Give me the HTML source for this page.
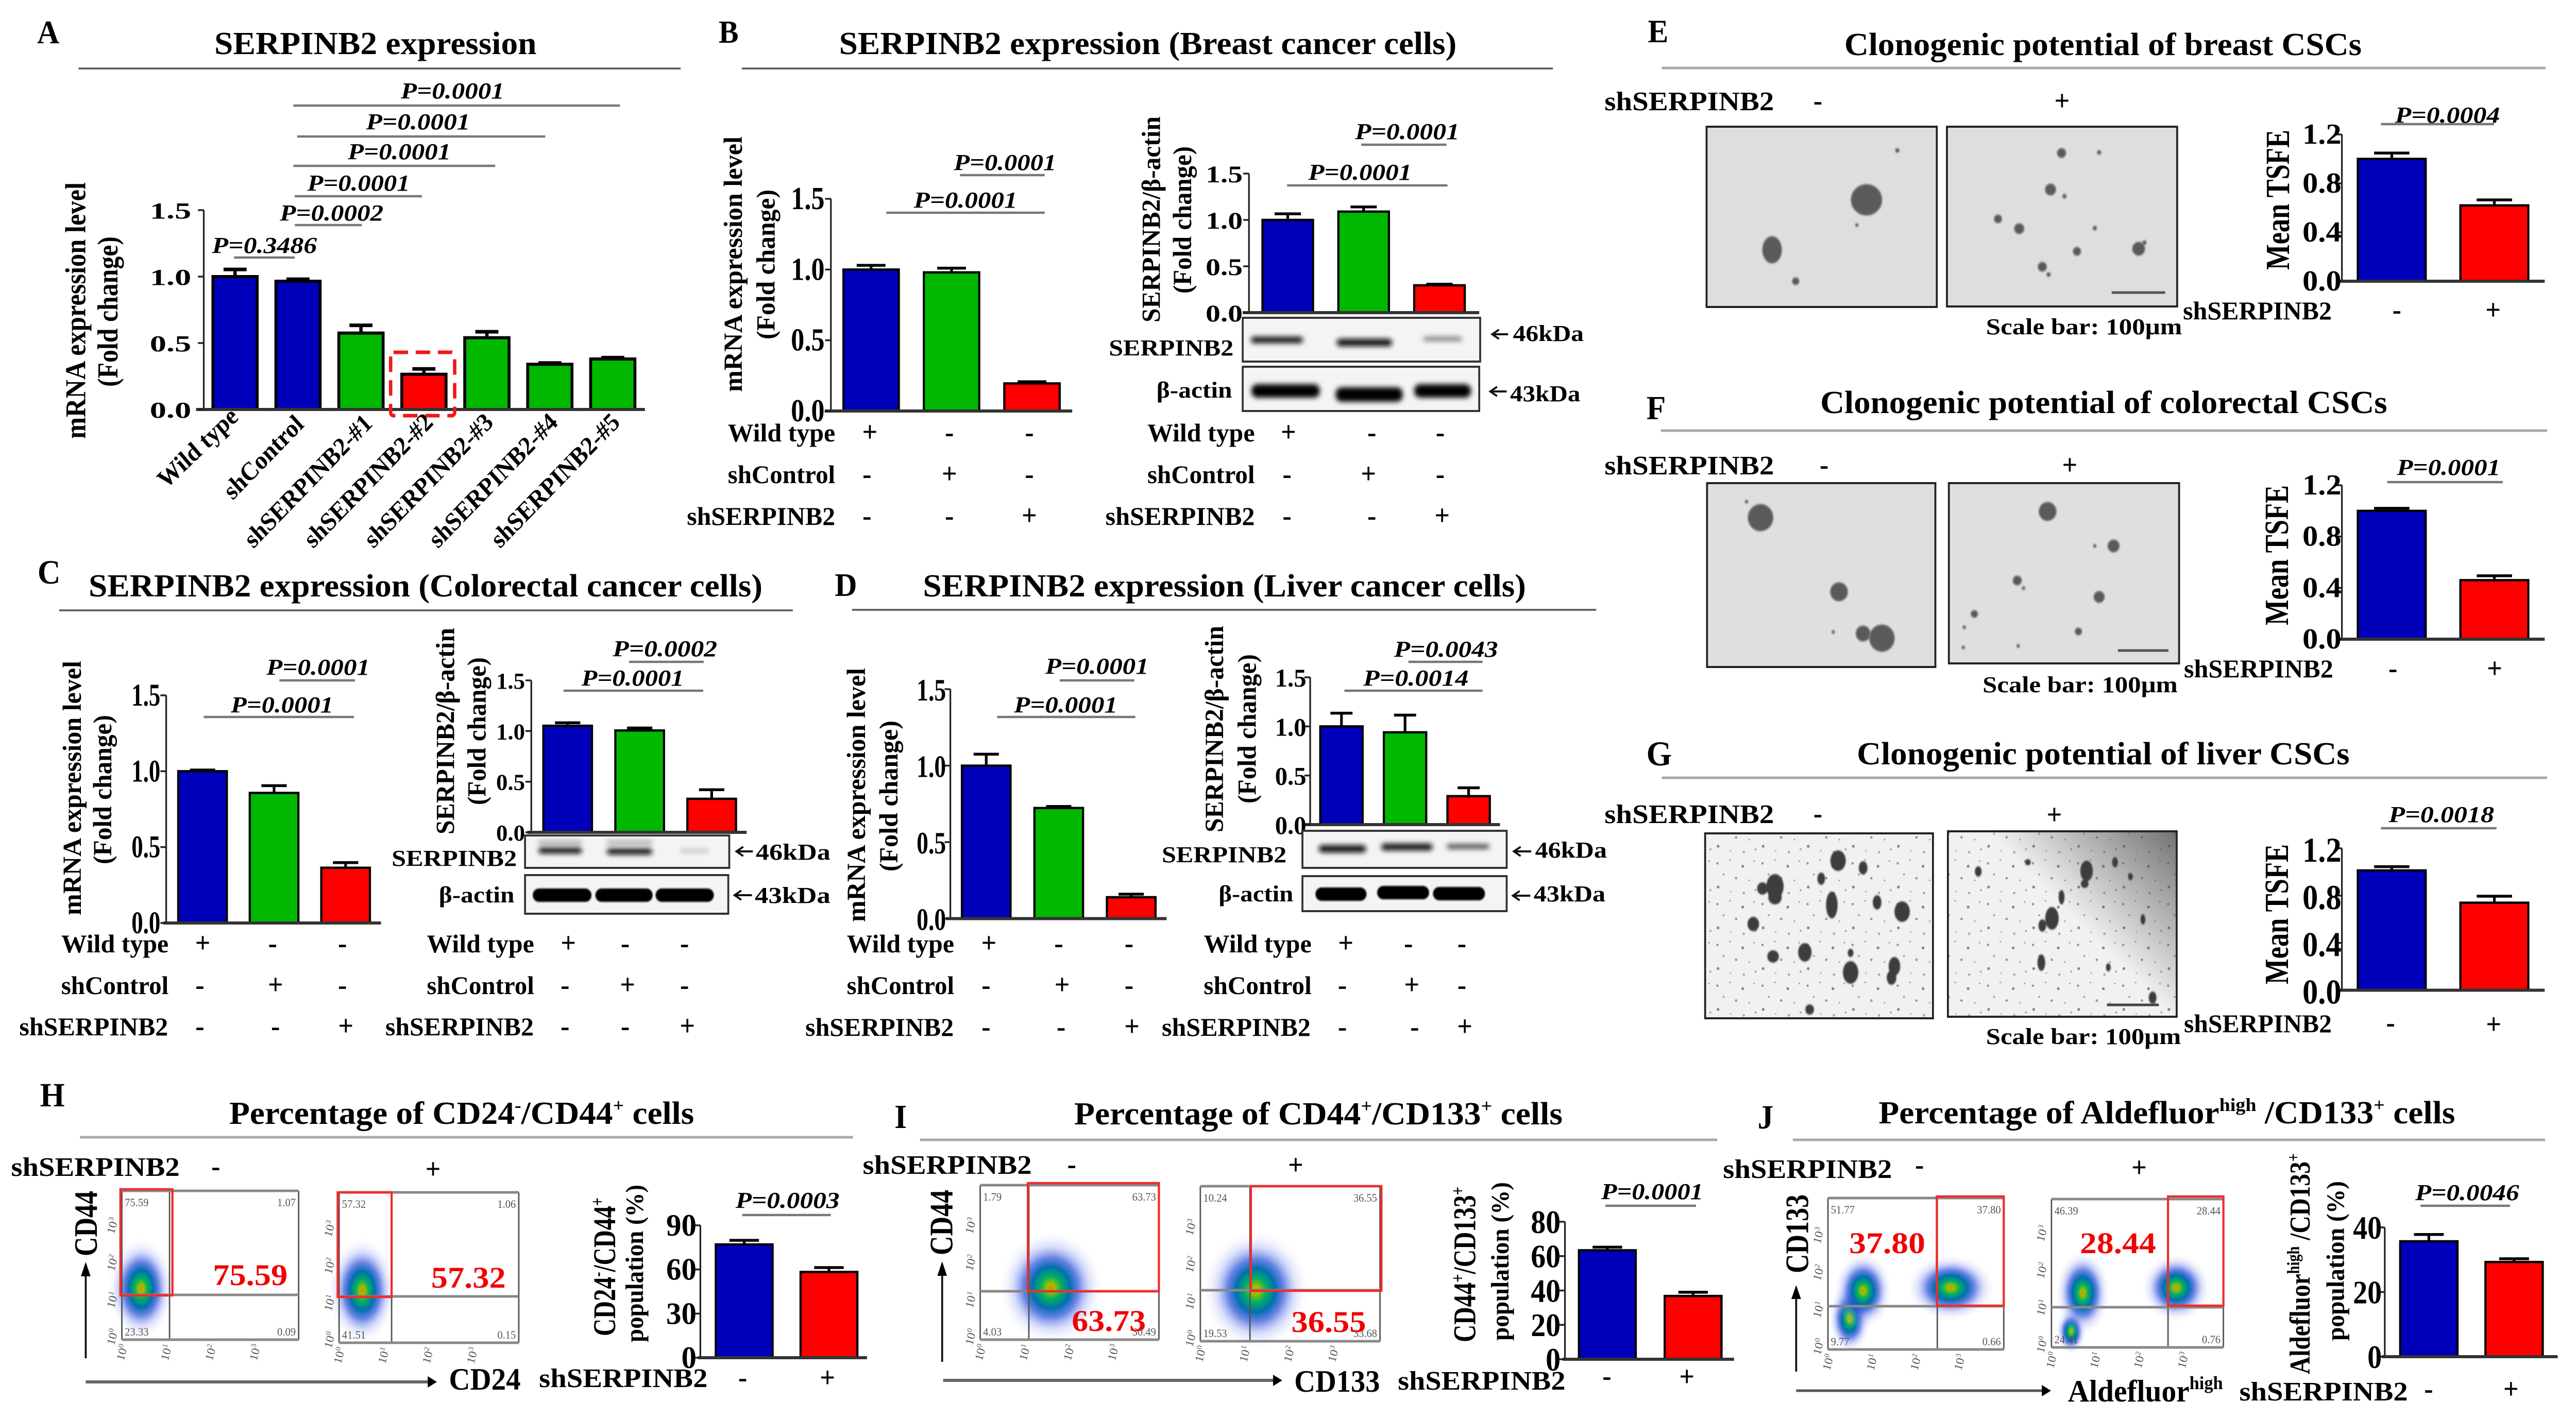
<!DOCTYPE html>
<html lang="en">
<head>
<meta charset="utf-8">
<title>SERPINB2 expression figure</title>
<style>
html,body{margin:0;padding:0;background:#fff;width:100%;height:100%;overflow:hidden}
svg{display:block;width:100vw;height:100vh;overflow:hidden}
text{font-family:"Liberation Serif","DejaVu Serif",serif;fill:#000}
.b{font-weight:bold}
.i{font-weight:bold;font-style:italic;font-size:44px}
.s{font-weight:bold;font-size:56px;text-anchor:middle}
.r{font-weight:bold;font-size:50px}
.k{font-weight:bold;font-size:44px}
.t{font-weight:bold;font-size:62px}
.y{font-weight:bold;font-size:54px}
.f{font-weight:bold;fill:#f00000;font-size:58px}
.rule{stroke:#555;stroke-width:3.5}
.rule2{stroke:#a8a8a8;stroke-width:5}
.pl{stroke:#777;stroke-width:4.5}
.box{fill:#f4f4f4;stroke:#333;stroke-width:4}
.img{stroke:#222;stroke-width:4}
.c{fill:#5a5a5a;stroke:#888;stroke-width:2}
.a{stroke:#111;stroke-width:4;fill:none}
</style>
</head>
<body>
<svg xmlns="http://www.w3.org/2000/svg" viewBox="0 0 5348 2755" preserveAspectRatio="none">
<defs>
<filter id="bl" x="-20%" y="-150%" width="140%" height="400%"><feGaussianBlur stdDeviation="5"/></filter>
<filter id="sf" x="-50%" y="-50%" width="200%" height="200%"><feGaussianBlur stdDeviation="1.5"/></filter>
<radialGradient id="cloud">
<stop offset="0" stop-color="#e88000"/><stop offset=".07" stop-color="#a0c000"/><stop offset=".2" stop-color="#00b060"/><stop offset=".36" stop-color="#0070b0"/><stop offset=".52" stop-color="#2850d8" stop-opacity=".7"/><stop offset=".72" stop-color="#8090f0" stop-opacity=".3"/><stop offset="1" stop-color="#fff" stop-opacity="0"/>
</radialGradient>
<linearGradient id="corner" x1="1" y1="0" x2=".5" y2=".4"><stop offset="0" stop-color="#555" stop-opacity=".8"/><stop offset="1" stop-color="#555" stop-opacity="0"/></linearGradient>
<pattern id="speck" width="130" height="110" patternUnits="userSpaceOnUse" patternTransform="scale(.72)">
<rect width="130" height="110" fill="#f1f1f0"/>
<circle cx="12" cy="18" r="3.5" fill="#999"/><circle cx="48" cy="9" r="2.5" fill="#aaa"/><circle cx="85" cy="26" r="4" fill="#888"/><circle cx="118" cy="12" r="2.5" fill="#aaa"/><circle cx="30" cy="48" r="3" fill="#aaa"/><circle cx="66" cy="58" r="3.5" fill="#999"/><circle cx="104" cy="64" r="2.5" fill="#aaa"/><circle cx="14" cy="82" r="4" fill="#888"/><circle cx="50" cy="94" r="2.5" fill="#bbb"/><circle cx="88" cy="98" r="3.5" fill="#aaa"/><circle cx="122" cy="90" r="3" fill="#aaa"/>
</pattern>
</defs>

<g id="marks"></g>

<!-- PANEL A -->
<g>
<text class="b" font-size="64" x="77" y="84">A</text>
<text class="t" x="445" y="105" textLength="669" lengthAdjust="spacingAndGlyphs">SERPINB2 expression</text>
<line class="rule" x1="163" y1="133" x2="1413" y2="133"/>
<text class="i" x="832" y="191" textLength="215" lengthAdjust="spacingAndGlyphs">P=0.0001</text><line class="pl" x1="609" y1="205" x2="1287" y2="205"/>
<text class="i" x="760" y="251" textLength="216" lengthAdjust="spacingAndGlyphs">P=0.0001</text><line class="pl" x1="617" y1="265" x2="1132" y2="265"/>
<text class="i" x="722" y="309" textLength="214" lengthAdjust="spacingAndGlyphs">P=0.0001</text><line class="pl" x1="609" y1="322" x2="1028" y2="322"/>
<text class="i" x="638" y="370" textLength="213" lengthAdjust="spacingAndGlyphs">P=0.0001</text><line class="pl" x1="612" y1="381" x2="876" y2="381"/>
<text class="i" x="581" y="428" textLength="215" lengthAdjust="spacingAndGlyphs">P=0.0002</text><line class="pl" x1="612" y1="437" x2="751" y2="437"/>
<text class="i" x="440" y="491" textLength="218" lengthAdjust="spacingAndGlyphs">P=0.3486</text><line class="pl" x1="486" y1="500" x2="612" y2="500"/>
<text class="b" font-size="60" transform="translate(177,852) rotate(-90)" textLength="498" lengthAdjust="spacingAndGlyphs">mRNA expression level</text>
<text class="b" font-size="60" transform="translate(244,751) rotate(-90)" textLength="292" lengthAdjust="spacingAndGlyphs">(Fold change)</text>
<rect x="811" y="684" width="133" height="123" rx="6" fill="none" stroke="#f01818" stroke-width="7" stroke-dasharray="30 16"/>
<text class="b" font-size="50" transform="translate(345,950) rotate(-42)" textLength="205" lengthAdjust="spacingAndGlyphs">Wild type</text>
<text class="b" font-size="50" transform="translate(483,972) rotate(-44)" textLength="209" lengthAdjust="spacingAndGlyphs">shControl</text>
<text class="b" font-size="50" transform="translate(526,1066) rotate(-44)" textLength="347" lengthAdjust="spacingAndGlyphs">shSERPINB2-#1</text>
<text class="b" font-size="50" transform="translate(650,1066) rotate(-44)" textLength="350" lengthAdjust="spacingAndGlyphs">shSERPINB2-#2</text>
<text class="b" font-size="50" transform="translate(775,1066) rotate(-44)" textLength="350" lengthAdjust="spacingAndGlyphs">shSERPINB2-#3</text>
<text class="b" font-size="50" transform="translate(909,1066) rotate(-44)" textLength="350" lengthAdjust="spacingAndGlyphs">shSERPINB2-#4</text>
<text class="b" font-size="50" transform="translate(1038,1066) rotate(-44)" textLength="350" lengthAdjust="spacingAndGlyphs">shSERPINB2-#5</text>
</g>

<!-- PANEL B -->
<g>
<text class="b" font-size="62" x="1492" y="83">B</text>
<text class="t" x="1742" y="105" textLength="1282" lengthAdjust="spacingAndGlyphs">SERPINB2 expression (Breast cancer cells)</text>
<line class="rule" x1="1540" y1="133" x2="3224" y2="133"/>
<text class="y" transform="translate(1540,761) rotate(-90)" textLength="496" lengthAdjust="spacingAndGlyphs">mRNA expression level</text>
<text class="y" transform="translate(1608,659) rotate(-90)" textLength="291" lengthAdjust="spacingAndGlyphs">(Fold change)</text>
<text class="i" x="1980" y="330" textLength="213" lengthAdjust="spacingAndGlyphs">P=0.0001</text><line class="pl" x1="1993" y1="340" x2="2169" y2="340"/>
<text class="i" x="1897" y="403" textLength="215" lengthAdjust="spacingAndGlyphs">P=0.0001</text><line class="pl" x1="1840" y1="413" x2="2169" y2="413"/>
<text class="r" x="1511" y="857" textLength="223" lengthAdjust="spacingAndGlyphs">Wild type</text><text class="s" x="1806" y="857">+</text><text class="s" x="1971" y="858">-</text><text class="s" x="2137" y="858">-</text>
<text class="r" x="1511" y="938" textLength="223" lengthAdjust="spacingAndGlyphs">shControl</text><text class="s" x="1800" y="939">-</text><text class="s" x="1971" y="938">+</text><text class="s" x="2137" y="939">-</text>
<text class="r" x="1426" y="1019" textLength="308" lengthAdjust="spacingAndGlyphs">shSERPINB2</text><text class="s" x="1800" y="1020">-</text><text class="s" x="1971" y="1020">-</text><text class="s" x="2137" y="1019">+</text>
<text class="y" transform="translate(2408,626) rotate(-90)" textLength="400" lengthAdjust="spacingAndGlyphs">SERPINB2/β-actin</text>
<text class="y" transform="translate(2473,570) rotate(-90)" textLength="286" lengthAdjust="spacingAndGlyphs">(Fold change)</text>
<text class="i" x="2813" y="270" textLength="217" lengthAdjust="spacingAndGlyphs">P=0.0001</text><line class="pl" x1="2826" y1="281" x2="3003" y2="281"/>
<text class="i" x="2716" y="349" textLength="215" lengthAdjust="spacingAndGlyphs">P=0.0001</text><line class="pl" x1="2672" y1="360" x2="3005" y2="360"/>
<rect class="box" x="2580" y="617" width="493" height="85"/>
<g filter="url(#bl)"><rect x="2597" y="654" width="108" height="12" rx="6" fill="#111"/><rect x="2775" y="658" width="115" height="14" rx="7" fill="#111"/><rect x="2955" y="654" width="80" height="8" rx="4" fill="#777"/></g>
<text class="k" x="2302" y="690" textLength="259" lengthAdjust="spacingAndGlyphs">SERPINB2</text>
<path class="a" d="M3131 649H3100M3112 640L3098 649L3112 658"/><text class="k" x="3141" y="662" textLength="147" lengthAdjust="spacingAndGlyphs">46kDa</text>
<rect class="box" x="2580" y="712" width="491" height="86" fill="#eee"/>
<g filter="url(#bl)"><rect x="2598" y="746" width="142" height="26" rx="12" fill="#000"/><rect x="2773" y="752" width="139" height="28" rx="12" fill="#000"/><rect x="2936" y="746" width="118" height="26" rx="12" fill="#000"/></g>
<text class="k" x="2401" y="772" textLength="157" lengthAdjust="spacingAndGlyphs">β-actin</text>
<path class="a" d="M3128 760H3096M3108 751L3094 760L3108 769"/><text class="k" x="3135" y="779" textLength="146" lengthAdjust="spacingAndGlyphs">43kDa</text>
<text class="r" x="2382" y="857" textLength="223" lengthAdjust="spacingAndGlyphs">Wild type</text><text class="s" x="2675" y="857">+</text><text class="s" x="2848" y="858">-</text><text class="s" x="2990" y="858">-</text>
<text class="r" x="2382" y="938" textLength="223" lengthAdjust="spacingAndGlyphs">shControl</text><text class="s" x="2672" y="939">-</text><text class="s" x="2841" y="938">+</text><text class="s" x="2990" y="939">-</text>
<text class="r" x="2295" y="1019" textLength="310" lengthAdjust="spacingAndGlyphs">shSERPINB2</text><text class="s" x="2672" y="1020">-</text><text class="s" x="2848" y="1020">-</text><text class="s" x="2994" y="1019">+</text>
</g>

<!-- PANEL C -->
<g>
<text class="b" font-size="66" x="78" y="1133">C</text>
<text class="t" x="184" y="1158" textLength="1399" lengthAdjust="spacingAndGlyphs">SERPINB2 expression (Colorectal cancer cells)</text>
<line class="rule" x1="123" y1="1185" x2="1646" y2="1185"/>
<text class="y" transform="translate(168,1777) rotate(-90)" textLength="494" lengthAdjust="spacingAndGlyphs">mRNA expression level</text>
<text class="y" transform="translate(231,1678) rotate(-90)" textLength="290" lengthAdjust="spacingAndGlyphs">(Fold change)</text>
<text class="i" x="553" y="1310" textLength="215" lengthAdjust="spacingAndGlyphs">P=0.0001</text><line class="pl" x1="580" y1="1321" x2="737" y2="1321"/>
<text class="i" x="479" y="1383" textLength="213" lengthAdjust="spacingAndGlyphs">P=0.0001</text><line class="pl" x1="423" y1="1392" x2="735" y2="1392"/>
<text class="r" x="127" y="1849" textLength="223" lengthAdjust="spacingAndGlyphs">Wild type</text><text class="s" x="421" y="1849">+</text><text class="s" x="566" y="1850">-</text><text class="s" x="711" y="1850">-</text>
<text class="r" x="127" y="1930" textLength="223" lengthAdjust="spacingAndGlyphs">shControl</text><text class="s" x="415" y="1931">-</text><text class="s" x="572" y="1930">+</text><text class="s" x="711" y="1931">-</text>
<text class="r" x="40" y="2010" textLength="309" lengthAdjust="spacingAndGlyphs">shSERPINB2</text><text class="s" x="415" y="2011">-</text><text class="s" x="572" y="2011">-</text><text class="s" x="718" y="2010">+</text>
<text class="y" transform="translate(943,1620) rotate(-90)" textLength="401" lengthAdjust="spacingAndGlyphs">SERPINB2/β-actin</text>
<text class="y" transform="translate(1008,1563) rotate(-90)" textLength="287" lengthAdjust="spacingAndGlyphs">(Fold change)</text>
<text class="i" x="1272" y="1274" textLength="217" lengthAdjust="spacingAndGlyphs">P=0.0002</text><line class="pl" x1="1306" y1="1285" x2="1461" y2="1285"/>
<text class="i" x="1207" y="1331" textLength="213" lengthAdjust="spacingAndGlyphs">P=0.0001</text><line class="pl" x1="1170" y1="1341" x2="1460" y2="1341"/>
<rect class="box" x="1090" y="1622" width="424" height="63"/>
<g filter="url(#bl)"><rect x="1118" y="1632" width="90" height="8" fill="#aaa"/><rect x="1260" y="1632" width="94" height="8" fill="#aaa"/><rect x="1118" y="1645" width="90" height="12" rx="6" fill="#111"/><rect x="1260" y="1647" width="94" height="12" rx="6" fill="#111"/><rect x="1412" y="1649" width="60" height="6" fill="#bbb"/></g>
<text class="k" x="813" y="1681" textLength="260" lengthAdjust="spacingAndGlyphs">SERPINB2</text>
<path class="a" d="M1563 1653H1531M1543 1644L1529 1653L1543 1662"/><text class="k" x="1569" y="1669" textLength="155" lengthAdjust="spacingAndGlyphs">46kDa</text>
<rect class="box" x="1090" y="1699" width="422" height="75"/>
<g filter="url(#sf)"><rect x="1106" y="1725" width="122" height="26" rx="13" fill="#000"/><rect x="1236" y="1725" width="119" height="26" rx="13" fill="#000"/><rect x="1361" y="1725" width="121" height="26" rx="13" fill="#000"/></g>
<text class="k" x="911" y="1752" textLength="157" lengthAdjust="spacingAndGlyphs">β-actin</text>
<path class="a" d="M1561 1738H1527M1539 1729L1525 1738L1539 1747"/><text class="k" x="1567" y="1753" textLength="157" lengthAdjust="spacingAndGlyphs">43kDa</text>
<text class="r" x="886" y="1849" textLength="223" lengthAdjust="spacingAndGlyphs">Wild type</text><text class="s" x="1180" y="1849">+</text><text class="s" x="1298" y="1850">-</text><text class="s" x="1421" y="1850">-</text>
<text class="r" x="886" y="1930" textLength="223" lengthAdjust="spacingAndGlyphs">shControl</text><text class="s" x="1173" y="1931">-</text><text class="s" x="1303" y="1930">+</text><text class="s" x="1421" y="1931">-</text>
<text class="r" x="800" y="2010" textLength="308" lengthAdjust="spacingAndGlyphs">shSERPINB2</text><text class="s" x="1173" y="2011">-</text><text class="s" x="1298" y="2011">-</text><text class="s" x="1427" y="2010">+</text>
</g>

<!-- PANEL D -->
<g>
<text class="b" font-size="64" x="1733" y="1157">D</text>
<text class="t" x="1916" y="1158" textLength="1252" lengthAdjust="spacingAndGlyphs">SERPINB2 expression (Liver cancer cells)</text>
<line class="rule" x1="1769" y1="1184" x2="3314" y2="1184"/>
<text class="y" transform="translate(1796,1790) rotate(-90)" textLength="493" lengthAdjust="spacingAndGlyphs">mRNA expression level</text>
<text class="y" transform="translate(1863,1692) rotate(-90)" textLength="293" lengthAdjust="spacingAndGlyphs">(Fold change)</text>
<text class="i" x="2170" y="1308" textLength="215" lengthAdjust="spacingAndGlyphs">P=0.0001</text><line class="pl" x1="2200" y1="1321" x2="2355" y2="1321"/>
<text class="i" x="2105" y="1383" textLength="215" lengthAdjust="spacingAndGlyphs">P=0.0001</text><line class="pl" x1="2070" y1="1392" x2="2357" y2="1392"/>
<text class="r" x="1758" y="1849" textLength="223" lengthAdjust="spacingAndGlyphs">Wild type</text><text class="s" x="2053" y="1849">+</text><text class="s" x="2198" y="1850">-</text><text class="s" x="2344" y="1850">-</text>
<text class="r" x="1758" y="1930" textLength="223" lengthAdjust="spacingAndGlyphs">shControl</text><text class="s" x="2047" y="1931">-</text><text class="s" x="2205" y="1930">+</text><text class="s" x="2344" y="1931">-</text>
<text class="r" x="1672" y="2011" textLength="308" lengthAdjust="spacingAndGlyphs">shSERPINB2</text><text class="s" x="2047" y="2012">-</text><text class="s" x="2203" y="2012">-</text><text class="s" x="2350" y="2011">+</text>
<text class="y" transform="translate(2539,1616) rotate(-90)" textLength="401" lengthAdjust="spacingAndGlyphs">SERPINB2/β-actin</text>
<text class="y" transform="translate(2607,1560) rotate(-90)" textLength="290" lengthAdjust="spacingAndGlyphs">(Fold change)</text>
<text class="i" x="2894" y="1275" textLength="216" lengthAdjust="spacingAndGlyphs">P=0.0043</text><line class="pl" x1="2924" y1="1285" x2="3078" y2="1285"/>
<text class="i" x="2830" y="1331" textLength="219" lengthAdjust="spacingAndGlyphs">P=0.0014</text><line class="pl" x1="2791" y1="1341" x2="3078" y2="1341"/>
<rect class="box" x="2704" y="1613" width="424" height="72"/>
<g filter="url(#bl)"><rect x="2738" y="1641" width="98" height="14" rx="7" fill="#111"/><rect x="2868" y="1638" width="106" height="13" rx="6" fill="#111"/><rect x="3004" y="1639" width="88" height="9" rx="4" fill="#444"/></g>
<text class="k" x="2412" y="1674" textLength="259" lengthAdjust="spacingAndGlyphs">SERPINB2</text>
<path class="a" d="M3179 1653H3145M3157 1644L3143 1653L3157 1662"/><text class="k" x="3187" y="1665" textLength="149" lengthAdjust="spacingAndGlyphs">46kDa</text>
<rect class="box" x="2704" y="1701" width="424" height="68"/>
<g filter="url(#sf)"><rect x="2731" y="1723" width="106" height="26" rx="13" fill="#000"/><rect x="2859" y="1720" width="108" height="26" rx="13" fill="#000"/><rect x="2975" y="1722" width="108" height="26" rx="13" fill="#000"/></g>
<text class="k" x="2530" y="1750" textLength="155" lengthAdjust="spacingAndGlyphs">β-actin</text>
<path class="a" d="M3177 1739H3143M3155 1730L3141 1739L3155 1748"/><text class="k" x="3184" y="1750" textLength="149" lengthAdjust="spacingAndGlyphs">43kDa</text>
<text class="r" x="2499" y="1849" textLength="224" lengthAdjust="spacingAndGlyphs">Wild type</text><text class="s" x="2794" y="1849">+</text><text class="s" x="2924" y="1850">-</text><text class="s" x="3035" y="1850">-</text>
<text class="r" x="2499" y="1930" textLength="224" lengthAdjust="spacingAndGlyphs">shControl</text><text class="s" x="2787" y="1931">-</text><text class="s" x="2931" y="1930">+</text><text class="s" x="3035" y="1931">-</text>
<text class="r" x="2412" y="2011" textLength="309" lengthAdjust="spacingAndGlyphs">shSERPINB2</text><text class="s" x="2787" y="2012">-</text><text class="s" x="2937" y="2012">-</text><text class="s" x="3041" y="2011">+</text>
</g>

<!-- PANEL E -->
<g>
<text class="b" font-size="64" x="3421" y="82">E</text>
<text class="t" x="3829" y="107" textLength="1074" lengthAdjust="spacingAndGlyphs">Clonogenic potential of breast CSCs</text>
<line class="rule2" x1="3450" y1="132" x2="5285" y2="132"/>
<text class="b" font-size="52" x="3331" y="214" textLength="352" lengthAdjust="spacingAndGlyphs">shSERPINB2</text><text class="s" x="3774" y="214">-</text><text class="s" x="4281" y="214">+</text>
<rect class="img" x="3543" y="246" width="478" height="350" fill="#dededc"/>
<g filter="url(#sf)"><ellipse class="c" cx="3875" cy="388" rx="32" ry="30" fill="#444"/><ellipse class="c" cx="3679" cy="485" rx="20" ry="26"/><circle class="c" cx="3728" cy="546" r="7"/><circle class="c" cx="3939" cy="292" r="4"/><circle class="c" cx="3855" cy="437" r="3"/></g>
<rect class="img" x="4042" y="246" width="478" height="349" fill="#dededc"/>
<g filter="url(#sf)"><circle class="c" cx="4280" cy="297" r="9"/><circle class="c" cx="4358" cy="296" r="4"/><circle class="c" cx="4257" cy="368" r="11"/><circle class="c" cx="4286" cy="381" r="4"/><circle class="c" cx="4148" cy="425" r="8"/><circle class="c" cx="4192" cy="444" r="10"/><circle class="c" cx="4349" cy="443" r="4"/><circle class="c" cx="4312" cy="488" r="8"/><circle class="c" cx="4440" cy="483" r="13"/><circle class="c" cx="4240" cy="518" r="9"/><circle class="c" cx="4253" cy="533" r="4"/><circle class="c" cx="4452" cy="471" r="4"/></g>
<line x1="4384" y1="568" x2="4495" y2="568" stroke="#555" stroke-width="5"/>
<text class="k" x="4123" y="649" textLength="407" lengthAdjust="spacingAndGlyphs">Scale bar: 100μm</text>
<text class="b" font-size="70" transform="translate(4752,524) rotate(-90)" textLength="272" lengthAdjust="spacingAndGlyphs">Mean TSFE</text>
<text class="i" x="4972" y="238" textLength="218" lengthAdjust="spacingAndGlyphs">P=0.0004</text><line class="pl" x1="4943" y1="241" x2="5178" y2="241"/>
<text class="r" x="4532" y="620" textLength="309" lengthAdjust="spacingAndGlyphs">shSERPINB2</text><text class="s" x="4976" y="620">-</text><text class="s" x="5176" y="620">+</text>
</g>

<!-- PANEL F -->
<g>
<text class="b" font-size="66" x="3418" y="814">F</text>
<text class="t" x="3779" y="802" textLength="1177" lengthAdjust="spacingAndGlyphs">Clonogenic potential of colorectal CSCs</text>
<line class="rule2" x1="3448" y1="836" x2="5288" y2="836"/>
<text class="b" font-size="52" x="3331" y="921" textLength="352" lengthAdjust="spacingAndGlyphs">shSERPINB2</text><text class="s" x="3787" y="921">-</text><text class="s" x="4297" y="921">+</text>
<rect class="img" x="3544" y="938" width="474" height="357" fill="#dfdfdd"/>
<g filter="url(#sf)"><circle class="c" cx="3655" cy="1005" r="26"/><circle class="c" cx="3818" cy="1149" r="18" fill="#808080"/><circle class="c" cx="3868" cy="1230" r="15" fill="#777"/><circle class="c" cx="3907" cy="1239" r="26" fill="#666"/><circle class="c" cx="3626" cy="974" r="3"/><circle class="c" cx="3806" cy="1227" r="3"/></g>
<rect class="img" x="4046" y="938" width="478" height="350" fill="#dfdfdd"/>
<g filter="url(#sf)"><circle class="c" cx="4251" cy="993" r="18" fill="#888"/><circle class="c" cx="4388" cy="1060" r="12" fill="#888"/><circle class="c" cx="4188" cy="1127" r="9" fill="#999"/><circle class="c" cx="4358" cy="1159" r="11" fill="#888"/><circle class="c" cx="4099" cy="1192" r="7" fill="#888"/><circle class="c" cx="4315" cy="1226" r="7"/><circle class="c" cx="4349" cy="1060" r="3"/><circle class="c" cx="4201" cy="1142" r="3"/><circle class="c" cx="4078" cy="1218" r="3"/><circle class="c" cx="4076" cy="1257" r="3"/><circle class="c" cx="4190" cy="1254" r="3"/></g>
<line x1="4397" y1="1263" x2="4502" y2="1263" stroke="#555" stroke-width="5"/>
<text class="k" x="4116" y="1344" textLength="405" lengthAdjust="spacingAndGlyphs">Scale bar: 100μm</text>
<text class="b" font-size="70" transform="translate(4750,1214) rotate(-90)" textLength="272" lengthAdjust="spacingAndGlyphs">Mean TSFE</text>
<text class="i" x="4976" y="922" textLength="215" lengthAdjust="spacingAndGlyphs">P=0.0001</text><line class="pl" x1="4956" y1="936" x2="5196" y2="936"/>
<text class="r" x="4534" y="1315" textLength="310" lengthAdjust="spacingAndGlyphs">shSERPINB2</text><text class="s" x="4968" y="1316">-</text><text class="s" x="5179" y="1316">+</text>
</g>

<!-- PANEL G -->
<g>
<text class="b" font-size="68" x="3418" y="1486">G</text>
<text class="t" x="3855" y="1484" textLength="1023" lengthAdjust="spacingAndGlyphs">Clonogenic potential of liver CSCs</text>
<line class="rule2" x1="3450" y1="1510" x2="5288" y2="1510"/>
<text class="b" font-size="52" x="3331" y="1598" textLength="352" lengthAdjust="spacingAndGlyphs">shSERPINB2</text><text class="s" x="3774" y="1598">-</text><text class="s" x="4265" y="1600">+</text>
<rect class="img" x="3540" y="1618" width="473" height="359" fill="url(#speck)"/>
<g filter="url(#sf)" fill="#3c3c3c"><ellipse cx="3816" cy="1671" rx="16" ry="20"/><ellipse cx="3868" cy="1685" rx="9" ry="13"/><ellipse cx="3781" cy="1706" rx="8" ry="12"/><ellipse cx="3685" cy="1721" rx="18" ry="24"/><ellipse cx="3659" cy="1725" rx="11" ry="12"/><ellipse cx="3685" cy="1742" rx="14" ry="14"/><ellipse cx="3803" cy="1757" rx="12" ry="26"/><ellipse cx="3897" cy="1752" rx="9" ry="14"/><ellipse cx="3949" cy="1770" rx="16" ry="20"/><ellipse cx="3640" cy="1794" rx="12" ry="14"/><ellipse cx="3747" cy="1849" rx="14" ry="18"/><ellipse cx="3681" cy="1857" rx="12" ry="12"/><ellipse cx="3842" cy="1888" rx="16" ry="22"/><ellipse cx="3933" cy="1876" rx="12" ry="18"/><ellipse cx="3927" cy="1898" rx="10" ry="14"/><ellipse cx="3757" cy="1960" rx="9" ry="10"/><ellipse cx="3842" cy="1850" rx="6" ry="8"/></g>
<rect class="img" x="4044" y="1614" width="475" height="360" fill="url(#speck)"/>
<rect x="4046" y="1616" width="471" height="356" fill="url(#corner)"/>
<g filter="url(#sf)" fill="#3c3c3c"><ellipse cx="4332" cy="1691" rx="13" ry="20"/><ellipse cx="4328" cy="1716" rx="8" ry="8"/><ellipse cx="4210" cy="1674" rx="6" ry="6"/><ellipse cx="4107" cy="1692" rx="7" ry="10"/><ellipse cx="4260" cy="1783" rx="14" ry="22"/><ellipse cx="4240" cy="1797" rx="8" ry="12"/><ellipse cx="4238" cy="1869" rx="8" ry="16"/><ellipse cx="4391" cy="1674" rx="6" ry="10"/><ellipse cx="4423" cy="1702" rx="5" ry="7"/><ellipse cx="4280" cy="1742" rx="6" ry="14"/><ellipse cx="4469" cy="1937" rx="8" ry="12"/><ellipse cx="4449" cy="1785" rx="5" ry="10"/><ellipse cx="4377" cy="1878" rx="5" ry="8"/></g>
<line x1="4374" y1="1951" x2="4482" y2="1951" stroke="#444" stroke-width="5"/>
<text class="k" x="4123" y="2027" textLength="405" lengthAdjust="spacingAndGlyphs">Scale bar: 100μm</text>
<text class="b" font-size="70" transform="translate(4750,1911) rotate(-90)" textLength="272" lengthAdjust="spacingAndGlyphs">Mean TSFE</text>
<text class="i" x="4959" y="1596" textLength="219" lengthAdjust="spacingAndGlyphs">P=0.0018</text><line class="pl" x1="4943" y1="1608" x2="5183" y2="1608"/>
<text class="r" x="4534" y="2004" textLength="307" lengthAdjust="spacingAndGlyphs">shSERPINB2</text><text class="s" x="4963" y="2004">-</text><text class="s" x="5177" y="2007">+</text>
</g>

<!-- PANEL H -->
<g>
<text class="b" font-size="66" x="83" y="2148">H</text>
<text class="t" font-size="60" x="476" y="2182" textLength="965" lengthAdjust="spacingAndGlyphs">Percentage of CD24<tspan font-size="36" dy="-24">-</tspan><tspan dy="24">/CD44</tspan><tspan font-size="36" dy="-24">+</tspan><tspan dy="24"> cells</tspan></text>
<line class="rule2" x1="166" y1="2208" x2="1771" y2="2208"/>
<text class="b" font-size="52" x="23" y="2283" textLength="350" lengthAdjust="spacingAndGlyphs">shSERPINB2</text><text class="s" x="448" y="2283">-</text><text class="s" x="899" y="2288">+</text>
<text class="f" x="442" y="2495" textLength="155" lengthAdjust="spacingAndGlyphs">75.59</text>
<text class="f" x="895" y="2500" textLength="155" lengthAdjust="spacingAndGlyphs">57.32</text>
<path class="a" d="M178 2637V2460"/><path d="M178 2450L168 2478H188Z" fill="#000"/>
<path d="M178 2683H895" stroke="#666" stroke-width="6"/><path d="M907 2683L888 2672V2694Z" fill="#000"/>
<text class="b" font-size="68" transform="translate(201,2439) rotate(-90)" textLength="127" lengthAdjust="spacingAndGlyphs">CD44</text>
<text class="b" font-size="60" x="932" y="2698" textLength="149" lengthAdjust="spacingAndGlyphs">CD24</text>
<text class="b" font-size="66" transform="translate(1277,2594) rotate(-90)" textLength="269" lengthAdjust="spacingAndGlyphs">CD24<tspan font-size="40" dy="-24">-</tspan><tspan dy="24">/CD44</tspan><tspan font-size="40" dy="-24">+</tspan></text>
<text class="b" font-size="52" transform="translate(1335,2606) rotate(-90)" textLength="306" lengthAdjust="spacingAndGlyphs">population (%)</text>
<text class="i" x="1527" y="2345" textLength="216" lengthAdjust="spacingAndGlyphs">P=0.0003</text><line class="pl" x1="1541" y1="2359" x2="1725" y2="2359"/>
<text class="b" font-size="52" x="1119" y="2693" textLength="350" lengthAdjust="spacingAndGlyphs">shSERPINB2</text><text class="s" x="1542" y="2693">-</text><text class="s" x="1718" y="2693">+</text>
</g>

<!-- PANEL I -->
<g>
<text class="b" font-size="66" x="1857" y="2190">I</text>
<text class="t" font-size="60" x="2230" y="2183" textLength="1014" lengthAdjust="spacingAndGlyphs">Percentage of CD44<tspan font-size="36" dy="-24">+</tspan><tspan dy="24">/CD133</tspan><tspan font-size="36" dy="-24">+</tspan><tspan dy="24"> cells</tspan></text>
<line class="rule2" x1="1910" y1="2213" x2="3565" y2="2213"/>
<text class="b" font-size="52" x="1791" y="2279" textLength="351" lengthAdjust="spacingAndGlyphs">shSERPINB2</text><text class="s" x="2225" y="2279">-</text><text class="s" x="2690" y="2280">+</text>
<text class="f" x="2225" y="2584" textLength="154" lengthAdjust="spacingAndGlyphs">63.73</text>
<text class="f" x="2681" y="2586" textLength="155" lengthAdjust="spacingAndGlyphs">36.55</text>
<path class="a" d="M1956 2644V2460"/><path d="M1956 2449L1946 2477H1966Z" fill="#000"/>
<path d="M1958 2680H2650" stroke="#666" stroke-width="6"/><path d="M2662 2680L2643 2669V2691Z" fill="#000"/>
<text class="b" font-size="68" transform="translate(1977,2437) rotate(-90)" textLength="127" lengthAdjust="spacingAndGlyphs">CD44</text>
<text class="b" font-size="60" x="2687" y="2702" textLength="178" lengthAdjust="spacingAndGlyphs">CD133</text>
<text class="b" font-size="66" transform="translate(3063,2606) rotate(-90)" textLength="302" lengthAdjust="spacingAndGlyphs">CD44<tspan font-size="40" dy="-24">+</tspan><tspan dy="24">/CD133</tspan><tspan font-size="40" dy="-24">+</tspan></text>
<text class="b" font-size="52" transform="translate(3132,2603) rotate(-90)" textLength="308" lengthAdjust="spacingAndGlyphs">population (%)</text>
<text class="i" x="3324" y="2328" textLength="212" lengthAdjust="spacingAndGlyphs">P=0.0001</text><line class="pl" x1="3333" y1="2341" x2="3521" y2="2341"/>
<text class="b" font-size="52" x="2902" y="2698" textLength="348" lengthAdjust="spacingAndGlyphs">shSERPINB2</text><text class="s" x="3336" y="2690">-</text><text class="s" x="3502" y="2691">+</text>
</g>

<!-- PANEL J -->
<g>
<text class="b" font-size="66" x="3649" y="2191">J</text>
<text class="t" font-size="60" x="3900" y="2181" textLength="1197" lengthAdjust="spacingAndGlyphs">Percentage of Aldefluor<tspan font-size="36" dy="-24">high</tspan><tspan dy="24"> /CD133</tspan><tspan font-size="36" dy="-24">+</tspan><tspan dy="24"> cells</tspan></text>
<line class="rule2" x1="3722" y1="2213" x2="5284" y2="2213"/>
<text class="b" font-size="52" x="3577" y="2287" textLength="351" lengthAdjust="spacingAndGlyphs">shSERPINB2</text><text class="s" x="3985" y="2280">-</text><text class="s" x="4441" y="2285">+</text>
<text class="f" x="3839" y="2433" textLength="158" lengthAdjust="spacingAndGlyphs">37.80</text>
<text class="f" x="4318" y="2433" textLength="158" lengthAdjust="spacingAndGlyphs">28.44</text>
<path class="a" d="M3729 2663V2505"/><path d="M3729 2495L3719 2522H3739Z" fill="#000"/>
<path d="M3729 2700H4245" stroke="#555" stroke-width="5"/><path d="M4258 2700L4239 2689V2711Z" fill="#000"/>
<text class="b" font-size="68" transform="translate(3754,2472) rotate(-90)" textLength="153" lengthAdjust="spacingAndGlyphs">CD133</text>
<text class="b" font-size="60" x="4293" y="2721" textLength="322" lengthAdjust="spacingAndGlyphs">Aldefluor<tspan font-size="36" dy="-24">high</tspan></text>
<text class="b" font-size="60" transform="translate(4795,2668) rotate(-90)" textLength="429" lengthAdjust="spacingAndGlyphs">Aldefluor<tspan font-size="36" dy="-22">high</tspan><tspan dy="22"> /CD133</tspan><tspan font-size="36" dy="-22">+</tspan></text>
<text class="b" font-size="52" transform="translate(4866,2603) rotate(-90)" textLength="310" lengthAdjust="spacingAndGlyphs">population (%)</text>
<text class="i" x="5014" y="2330" textLength="216" lengthAdjust="spacingAndGlyphs">P=0.0046</text><line class="pl" x1="5025" y1="2341" x2="5211" y2="2341"/>
<text class="b" font-size="52" x="4649" y="2719" textLength="350" lengthAdjust="spacingAndGlyphs">shSERPINB2</text><text class="s" x="5042" y="2715">-</text><text class="s" x="5213" y="2715">+</text>
</g>
</svg>

<script>
// ---- bar chart data ----
const categoriesA = ['Wild type','shControl','shSERPINB2-#1','shSERPINB2-#2','shSERPINB2-#3','shSERPINB2-#4','shSERPINB2-#5'];
const valuesA = [1.0,0.965,0.575,0.265,0.54,0.34,0.38];
const errorsA = [0.054,0.015,0.058,0.04,0.045,0.01,0.01];
const colorsA = ['#0000bb','#0000bb','#00b800','#ff0000','#00b800','#00b800','#00b800'];
const categoriesTriple = ['Wild type','shControl','shSERPINB2'];
const colorsTriple = ['#0000bb','#00b800','#ff0000'];
const valuesB1 = [1.0,0.98,0.195];
const errorsB1 = [0.03,0.03,0.012];
const valuesB2 = [1.0,1.09,0.295];
const errorsB2 = [0.066,0.05,0.012];
const valuesC1 = [1.0,0.857,0.364];
const errorsC1 = [0.008,0.048,0.034];
const valuesC2 = [1.052,1.006,0.331];
const errorsC2 = [0.03,0.024,0.09];
const valuesD1 = [1.0,0.723,0.14];
const errorsD1 = [0.075,0.01,0.02];
const valuesD2 = [1.0,0.94,0.29];
const errorsD2 = [0.135,0.175,0.085];
const categoriesDuo = ['shSERPINB2 -','shSERPINB2 +'];
const colorsDuo = ['#0000bb','#ff0000'];
const valuesE = [1.0,0.62];
const errorsE = [0.048,0.045];
const valuesF = [1.0,0.46];
const errorsF = [0.02,0.034];
const valuesG = [1.013,0.74];
const errorsG = [0.032,0.055];
const valuesH = [77,58.3];
const errorsH = [2.8,3];
const valuesI = [63.4,36.8];
const errorsI = [1.8,2.2];
const valuesJ = [35.7,29.3];
const errorsJ = [2.1,1];
const ticks15 = [0,0.5,1,1.5];
const tickLabels15 = ['0.0','0.5','1.0','1.5'];
const ticks12 = [0,0.4,0.8,1.2];
const tickLabels12 = ['0.0','0.4','0.8','1.2'];
const ticksH = [0,30,60,90];
const tickLabelsH = ['0','30','60','90'];
const ticksI = [0,20,40,60,80];
const tickLabelsI = ['0','20','40','60','80'];
const ticksJ = [0,20,40];
const tickLabelsJ = ['0','20','40'];
// ---- flow cytometry quadrant percentages (UL, UR, LL, LR) ----
const quadrantsH1 = ['75.59','1.07','23.33','0.09'];
const quadrantsH2 = ['57.32','1.06','41.51','0.15'];
const quadrantsI1 = ['1.79','63.73','4.03','30.49'];
const quadrantsI2 = ['10.24','36.55','19.53','33.68'];
const quadrantsJ1 = ['51.77','37.80','9.77','0.66'];
const quadrantsJ2 = ['46.39','28.44','24.41','0.76'];
const flowExponents = [0,1,2,3];

const NS = 'http://www.w3.org/2000/svg';
const root = document.getElementById('marks');
function mk(tag, attrs, parent){
  const el = document.createElementNS(NS, tag);
  for (const k in attrs) el.setAttribute(k, attrs[k]);
  parent.appendChild(el);
  return el;
}

function drawBars(c){
  const y = v => c.yBottom - (v / c.max) * (c.yBottom - c.yTop);
  const x = i => c.x0 + i * c.step;
  const sw = c.sw || 4.5;
  const g = mk('g', {}, root);
  
  
  c.values.forEach((v, i) => {
    const cx = x(i) + c.barW / 2;
    const errTop = y(v + c.errors[i]);
    const err = mk('path', {d:'M'+cx+' '+y(v)+'V'+errTop+'M'+(cx-c.barW*0.26)+' '+errTop+'H'+(cx+c.barW*0.26), stroke:'#000', 'stroke-width':sw+1, fill:'none'}, g);
    
    
    const bar = mk('rect', {x:x(i), y:y(v), width:c.barW, height:c.yBottom - y(v), fill:c.colors[i], stroke:'#000', 'stroke-width':sw}, g);
    
    
  });
  const yAxis = mk('line', {x1:c.axisX, x2:c.axisX, y1:c.yTop, y2:c.yBottom, stroke:'#222', 'stroke-width':3.5}, g);
  
  
  const xAxis = mk('line', {x1:c.xAxisFrom, x2:c.xAxisTo, y1:c.yBottom, y2:c.yBottom, stroke:'#333', 'stroke-width':6}, g);
  
  
  const maxLen = Math.max(...c.tickLabels.map(s => s.length));
  c.ticks.forEach((t, i) => {
    const tick = mk('line', {x1:c.axisX - 12, x2:c.axisX, y1:y(t), y2:y(t), stroke:'#222', 'stroke-width':3.5}, g);
    
    
    const w = c.labelW * c.tickLabels[i].length / maxLen;
    const lab = mk('text', {x:c.labelRight - w, y:y(t) + c.labelOffset, 'font-size':c.labelSize, 'font-weight':'bold', textLength:w, lengthAdjust:'spacingAndGlyphs'}, g);
    lab.textContent = c.tickLabels[i];
    
    
  });
}

function drawFlow(f){
  const g = mk('g', {}, root);
  
  
  f.clouds.forEach(k => {
    const e = mk('ellipse', {cx:k[0], cy:k[1], rx:k[2], ry:k[3], fill:'url(#cloud)'}, g);
    
    
  });
  const frame = mk('path', {d:'M'+f.left+' '+f.bottom+'V'+f.top+'M'+f.right+' '+f.top+'V'+f.bottom+'M'+f.vx+' '+f.top+'V'+f.bottom, stroke:'#555', 'stroke-width':3, fill:'none'}, g);
  
  
  const rails = mk('path', {d:'M'+f.left+' '+f.top+'H'+f.right+'M'+f.left+' '+f.hy+'H'+f.right+'M'+f.left+' '+f.bottom+'H'+f.right, stroke:'#888', 'stroke-width':5, fill:'none'}, g);
  
  
  const red = mk('rect', {x:f.red[0], y:f.red[1], width:f.red[2], height:f.red[3], fill:'none', stroke:'#f02c2c', 'stroke-width':4.5}, g);
  
  
  const qx = [f.left + 6, f.right - 6, f.left + 6, f.right - 6];
  const qy = [f.top + 30, f.top + 30, f.bottom - 8, f.bottom - 8];
  const qa = ['start','end','start','end'];
  f.quadrants.forEach((q, i) => {
    const t = mk('text', {x:qx[i], y:qy[i], 'font-size':22, 'text-anchor':qa[i], style:'fill:#555'}, g);
    t.textContent = q;
    
    
  });
  const xTick = e => f.left + e * f.xStep;
  const yTick = e => f.bottom - e * f.yStep;
  flowExponents.forEach(e => {
    const tx = mk('text', {'font-size':24, transform:'translate('+(xTick(e)+4)+','+(f.bottom+42)+') rotate(-75)', style:'fill:#555'}, g);
    tx.textContent = '10';
    const sx = mk('tspan', {'font-size':15, dy:-9}, tx);
    sx.textContent = String(e);
    
    
    const ty = mk('text', {'font-size':24, transform:'translate('+(f.left-16)+','+(yTick(e)+12)+') rotate(-75)', style:'fill:#555'}, g);
    ty.textContent = '10';
    const sy = mk('tspan', {'font-size':15, dy:-9}, ty);
    sy.textContent = String(e);
    
    
  });
}

drawBars({id:'a',categories:categoriesA,values:valuesA,errors:errorsA,colors:colorsA,ticks:ticks15,tickLabels:tickLabels15,max:1.5,x0:442,step:130.7,barW:92,yBottom:795,yTop:408,axisX:423,xAxisFrom:407,xAxisTo:1339,labelRight:397,labelW:86,labelSize:44,labelOffset:16,sw:6});
drawBars({id:'b-mrna',categories:categoriesTriple,values:valuesB1,errors:errorsB1,colors:colorsTriple,ticks:ticks15,tickLabels:tickLabels15,max:1.5,x0:1751,step:167,barW:115,yBottom:798,yTop:386,axisX:1725,xAxisFrom:1712,xAxisTo:2226,labelRight:1712,labelW:70,labelSize:62,labelOffset:20});
drawBars({id:'b-blot',categories:categoriesTriple,values:valuesB2,errors:errorsB2,colors:colorsTriple,ticks:ticks15,tickLabels:tickLabels15,max:1.5,x0:2621,step:157.5,barW:105,yBottom:607,yTop:337,axisX:2593,xAxisFrom:2580,xAxisTo:3071,labelRight:2580,labelW:77,labelSize:47,labelOffset:17});
drawBars({id:'c-mrna',categories:categoriesTriple,values:valuesC1,errors:errorsC1,colors:colorsTriple,ticks:ticks15,tickLabels:tickLabels15,max:1.5,x0:370,step:148.5,barW:101,yBottom:1792,yTop:1350,axisX:345,xAxisFrom:339,xAxisTo:791,labelRight:333,labelW:60,labelSize:61,labelOffset:20});
drawBars({id:'c-blot',categories:categoriesTriple,values:valuesC2,errors:errorsC2,colors:colorsTriple,ticks:ticks15,tickLabels:tickLabels15,max:1.5,x0:1128,step:149.5,barW:101,yBottom:1616,yTop:1321,axisX:1103,xAxisFrom:1095,xAxisTo:1550,labelRight:1090,labelW:60,labelSize:44,labelOffset:16});
drawBars({id:'d-mrna',categories:categoriesTriple,values:valuesD1,errors:errorsD1,colors:colorsTriple,ticks:ticks15,tickLabels:tickLabels15,max:1.5,x0:1997,step:150.5,barW:101,yBottom:1783.5,yTop:1338,axisX:1973,xAxisFrom:1964,xAxisTo:2422,labelRight:1964,labelW:61,labelSize:60,labelOffset:22});
drawBars({id:'d-blot',categories:categoriesTriple,values:valuesD2,errors:errorsD2,colors:colorsTriple,ticks:ticks15,tickLabels:tickLabels15,max:1.5,x0:2741,step:132,barW:88,yBottom:1601,yTop:1315,axisX:2720,xAxisFrom:2710,xAxisTo:3114,labelRight:2712,labelW:65,labelSize:50,labelOffset:18});
drawBars({id:'e',categories:categoriesDuo,values:valuesE,errors:errorsE,colors:colorsDuo,ticks:ticks12,tickLabels:tickLabels12,max:1.2,x0:4895,step:213,barW:141,yBottom:546,yTop:261,axisX:4862,xAxisFrom:4852,xAxisTo:5283,labelRight:4861,labelW:81,labelSize:56,labelOffset:18});
drawBars({id:'f',categories:categoriesDuo,values:valuesF,errors:errorsF,colors:colorsDuo,ticks:ticks12,tickLabels:tickLabels12,max:1.2,x0:4895,step:213,barW:141,yBottom:1241,yTop:942,axisX:4862,xAxisFrom:4852,xAxisTo:5283,labelRight:4861,labelW:81,labelSize:56,labelOffset:18});
drawBars({id:'g',categories:categoriesDuo,values:valuesG,errors:errorsG,colors:colorsDuo,ticks:ticks12,tickLabels:tickLabels12,max:1.2,x0:4895,step:213,barW:141,yBottom:1922.5,yTop:1647,axisX:4862,xAxisFrom:4852,xAxisTo:5283,labelRight:4861,labelW:81,labelSize:68,labelOffset:26});
drawBars({id:'h',categories:categoriesDuo,values:valuesH,errors:errorsH,colors:colorsDuo,ticks:ticksH,tickLabels:tickLabelsH,max:90,x0:1486,step:176,barW:118,yBottom:2636,yTop:2379,axisX:1454,xAxisFrom:1449,xAxisTo:1800,labelRight:1446,labelW:63,labelSize:60,labelOffset:20});
drawBars({id:'i',categories:categoriesDuo,values:valuesI,errors:errorsI,colors:colorsDuo,ticks:ticksI,tickLabels:tickLabelsI,max:80,x0:3278,step:178,barW:118,yBottom:2639,yTop:2372,axisX:3249,xAxisFrom:3244,xAxisTo:3600,labelRight:3240,labelW:62,labelSize:63,labelOffset:22});
drawBars({id:'j',categories:categoriesDuo,values:valuesJ,errors:errorsJ,colors:colorsDuo,ticks:ticksJ,tickLabels:tickLabelsJ,max:40,x0:4983,step:177,barW:119,yBottom:2634,yTop:2383,axisX:4951,xAxisFrom:4945,xAxisTo:5310,labelRight:4945,labelW:60,labelSize:63,labelOffset:22});

drawFlow({id:'h-control',left:253,top:2312,right:620,bottom:2601,vx:352,hy:2514,red:[250,2309,108,206],quadrants:quadrantsH1,xStep:92,yStep:72,clouds:[[293,2502,70,100]]});
drawFlow({id:'h-knockdown',left:704,top:2315,right:1077,bottom:2607,vx:813,hy:2517,red:[701,2315,112,203],quadrants:quadrantsH2,xStep:92,yStep:72,clouds:[[752,2506,72,105]]});
drawFlow({id:'i-control',left:2035,top:2301,right:2406,bottom:2601,vx:2136,hy:2507,red:[2134,2297,272,210],quadrants:quadrantsI1,xStep:92,yStep:72,clouds:[[2182,2500,110,112]]});
drawFlow({id:'i-knockdown',left:2492,top:2303,right:2865,bottom:2604,vx:2595,hy:2505,red:[2597,2303,271,203],quadrants:quadrantsI2,xStep:92,yStep:72,clouds:[[2607,2505,112,118]]});
drawFlow({id:'j-control',left:3795,top:2326,right:4160,bottom:2620,vx:4022,hy:2536,red:[4021,2323,139,212],quadrants:quadrantsJ1,xStep:91,yStep:72,clouds:[[3840,2560,45,70],[3868,2506,62,76],[4050,2500,94,66]]});
drawFlow({id:'j-knockdown',left:4259,top:2328,right:4616,bottom:2616,vx:4501,hy:2538,red:[4501,2323,115,212],quadrants:quadrantsJ2,xStep:91,yStep:72,clouds:[[4300,2585,32,46],[4324,2510,58,84],[4518,2500,74,68]]});
</script>
</body>
</html>
